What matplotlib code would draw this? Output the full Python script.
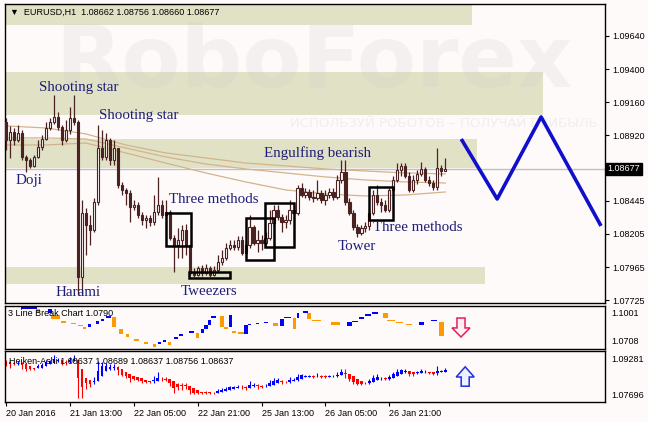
import numpy as np
import matplotlib
matplotlib.use("Agg")
import matplotlib.pyplot as plt
from matplotlib.patches import Rectangle, Polygon
from matplotlib.transforms import blended_transform_factory

plt.rcParams['font.family'] = ['Liberation Sans', 'DejaVu Sans']

# EURUSD H1, first bar 20 Jan 2016 21:00, open of every bar = previous close
first_open = 1.09017
closes = [1.08886, 1.08944, 1.08886, 1.08937, 1.08763, 1.08741, 1.08698, 1.08763, 1.08835, 1.08893,
          1.08973, 1.09017, 1.09053, 1.08980, 1.08886, 1.08959, 1.09046, 1.09017, 1.07893, 1.08357,
          1.08270, 1.08234, 1.08437, 1.08828, 1.08763, 1.08886, 1.08741, 1.08828, 1.08560, 1.08524,
          1.08502, 1.08400, 1.08415, 1.08342, 1.08306, 1.08321, 1.08292, 1.08364, 1.08415, 1.08342,
          1.08364, 1.08176, 1.08125, 1.08161, 1.08234, 1.08125, 1.07922, 1.07907, 1.07958, 1.07922,
          1.07958, 1.07907, 1.07944, 1.08002, 1.08031, 1.08103, 1.08125, 1.08110, 1.08161, 1.08067,
          1.08125, 1.08255, 1.08139, 1.08161, 1.08139, 1.08176, 1.08284, 1.08379, 1.08328, 1.08292,
          1.08306, 1.08379, 1.08357, 1.08538, 1.08487, 1.08509, 1.08473, 1.08466, 1.08502, 1.08451,
          1.08487, 1.08509, 1.08473, 1.08596, 1.08654, 1.08437, 1.08357, 1.08255, 1.08212, 1.08248,
          1.08263, 1.08357, 1.08487, 1.08437, 1.08415, 1.08379, 1.08524, 1.08596, 1.08669, 1.08698,
          1.08625, 1.08524, 1.08596, 1.08640, 1.08676, 1.08596, 1.08574, 1.08545, 1.08683, 1.08662,
          1.08677]
highs = [1.09046, 1.08988, 1.08973, 1.08995, 1.08959, 1.08777, 1.08756, 1.08777, 1.08886, 1.08922,
         1.09017, 1.09046, 1.09212, 1.09089, 1.08995, 1.09031, 1.09125, 1.09212, 1.09031, 1.08451,
         1.08393, 1.08342, 1.08466, 1.08995, 1.08959, 1.08937, 1.08901, 1.08886, 1.08828, 1.08582,
         1.08538, 1.08524, 1.08451, 1.08437, 1.08364, 1.08342, 1.08342, 1.08487, 1.08618, 1.08451,
         1.08451, 1.08379, 1.08197, 1.08248, 1.08270, 1.08277, 1.08125, 1.07958, 1.07973, 1.07980,
         1.07987, 1.07973, 1.07973, 1.08052, 1.08089, 1.08139, 1.08161, 1.08161, 1.08190, 1.08190,
         1.08161, 1.08342, 1.08270, 1.08234, 1.08197, 1.08219, 1.08379, 1.08415, 1.08415, 1.08350,
         1.08342, 1.08451, 1.08415, 1.08560, 1.08574, 1.08538, 1.08531, 1.08524, 1.08596, 1.08524,
         1.08524, 1.08538, 1.08538, 1.08632, 1.08741, 1.08741, 1.08466, 1.08379, 1.08277, 1.08270,
         1.08292, 1.08393, 1.08524, 1.08560, 1.08466, 1.08451, 1.08538, 1.08625, 1.08719, 1.08719,
         1.08719, 1.08654, 1.08632, 1.08669, 1.08727, 1.08690, 1.08625, 1.08596, 1.08828, 1.08705,
         1.08756]
lows = [1.08814, 1.08756, 1.08850, 1.08872, 1.08741, 1.08654, 1.08683, 1.08690, 1.08756, 1.08814,
        1.08886, 1.08959, 1.09002, 1.08959, 1.08850, 1.08872, 1.08930, 1.08995, 1.07762, 1.07762,
        1.08052, 1.08125, 1.08219, 1.08415, 1.08741, 1.08741, 1.08705, 1.08705, 1.08538, 1.08487,
        1.08415, 1.08292, 1.08379, 1.08321, 1.08270, 1.08248, 1.08263, 1.08270, 1.08342, 1.08321,
        1.08321, 1.08161, 1.07929, 1.08031, 1.08031, 1.08052, 1.07907, 1.07893, 1.07900, 1.07900,
        1.07907, 1.07893, 1.07900, 1.07929, 1.07980, 1.08016, 1.08089, 1.08089, 1.08089, 1.08052,
        1.08045, 1.08103, 1.08125, 1.08074, 1.08089, 1.08125, 1.08161, 1.08270, 1.08306, 1.08219,
        1.08248, 1.08277, 1.08342, 1.08342, 1.08473, 1.08466, 1.08451, 1.08437, 1.08451, 1.08429,
        1.08415, 1.08466, 1.08451, 1.08458, 1.08574, 1.08415, 1.08342, 1.08234, 1.08183, 1.08197,
        1.08219, 1.08234, 1.08342, 1.08415, 1.08364, 1.08364, 1.08364, 1.08509, 1.08582, 1.08625,
        1.08611, 1.08509, 1.08509, 1.08567, 1.08625, 1.08582, 1.08553, 1.08524, 1.08524, 1.08625,
        1.08660]

# moving averages read every 10 bars
ma_bars = [0, 10, 20, 30, 40, 50, 60, 70, 80, 90, 100, 110]
ma_fast = [1.08988, 1.08973, 1.08930, 1.08850, 1.08792, 1.08756, 1.08719, 1.08698, 1.08676, 1.08661, 1.08647, 1.08640]
ma_mid = [1.08901, 1.08901, 1.08893, 1.08828, 1.08763, 1.08712, 1.08676, 1.08647, 1.08618, 1.08596, 1.08582, 1.08574]
ma_slow = [1.08850, 1.08850, 1.08864, 1.08792, 1.08719, 1.08647, 1.08582, 1.08524, 1.08495, 1.08480, 1.08487, 1.08509]

# support / resistance zones
zone_top = [1.09865, 1.09379, 1.08893, 1.07965]
zone_bottom = [1.09720, 1.09067, 1.08683, 1.07842]
zone_end = [116.75, 134.5, 118.0, 120.0]

# pattern boxes
box_x0 = [40.0, 45.75, 60.0, 64.75, 91.0]
box_x1 = [46.25, 56.0, 67.0, 72.0, 97.0]
box_top = [1.08357, 1.07929, 1.08321, 1.08429, 1.08545]
box_bottom = [1.08118, 1.07886, 1.08016, 1.08110, 1.08306]

labels = ["Shooting star", "Shooting star", "Doji", "Harami", "Three methods",
          "Tweezers", "Engulfing bearish", "Tower", "Three methods"]
label_bar = [8.25, 23.25, 2.5, 12.5, 40.75, 43.75, 64.5, 83.0, 92.0]
label_price = [1.09270, 1.09067, 1.08589, 1.07777, 1.08458, 1.07791, 1.08792, 1.08117, 1.08248]

# forecast
fc_bar = [114.0, 123.0, 134.0, 149.0]
fc_price = [1.08893, 1.08458, 1.09053, 1.08263]

last_price = 1.08677
price_ticks = [1.09640, 1.09400, 1.09160, 1.08920, 1.08445, 1.08205, 1.07965, 1.07725]
date_bars = [0, 16, 32, 48, 64, 80, 96]
date_labels = ["20 Jan 2016", "21 Jan 13:00", "22 Jan 05:00", "22 Jan 21:00",
               "25 Jan 13:00", "26 Jan 05:00", "26 Jan 21:00"]

# 3 Line Break segments
lb_start = [3.75, 7.5, 10.5, 11.25, 13.75, 16.25, 18.0, 19.25, 20.5, 22.5, 23.75, 25.0, 26.5, 28.25, 30.0,
            32.0, 34.5, 36.75, 38.0, 39.25, 40.5, 42.0, 43.25, 45.75, 47.5, 48.75, 49.5, 50.5, 51.25,
            53.5, 54.5, 55.75, 56.5, 58.0, 59.5, 60.5, 62.5, 64.5, 66.75, 68.5, 69.5, 71.75, 72.75,
            74.25, 75.5, 76.75, 81.5, 85.5, 86.75, 88.5, 90.0, 91.75, 94.5, 95.5, 97.75, 100.25,
            103.5, 106.5, 108.5]
lb_end = [7.5, 8.25, 11.25, 13.25, 15.0, 17.5, 19.25, 20.0, 21.25, 23.25, 24.5, 26.25, 27.5, 29.25, 30.75,
          33.25, 35.5, 37.5, 38.75, 40.0, 41.25, 43.0, 44.25, 47.0, 48.25, 49.5, 50.5, 51.25, 52.5,
          54.5, 55.5, 56.5, 57.5, 59.5, 60.5, 61.25, 63.25, 65.5, 68.0, 69.5, 71.25, 72.5, 73.25,
          75.5, 76.25, 78.75, 83.5, 86.5, 88.0, 89.5, 91.25, 93.0, 95.5, 97.25, 99.25, 101.5,
          104.5, 107.75, 109.5]
lb_top = [1.1001, 1.0986, 1.0986, 1.0941, 1.0896, 1.0881, 1.0866, 1.0851, 1.0873, 1.0896, 1.0911, 1.0933,
          1.0926, 1.0843, 1.0806, 1.0768, 1.0738, 1.0731, 1.0746, 1.0753, 1.0746, 1.0776, 1.0806, 1.0821,
          1.0813, 1.0843, 1.0866, 1.0903, 1.0933, 1.0933, 1.0851, 1.0941, 1.0828, 1.0813, 1.0866, 1.0873,
          1.0881, 1.0888, 1.0881, 1.0911, 1.0926, 1.0918, 1.0956, 1.0963, 1.0956, 1.0903, 1.0888, 1.0888,
          1.0896, 1.0926, 1.0941, 1.0956, 1.0956, 1.0903, 1.0888, 1.0873, 1.0888, 1.0903, 1.0888]
lb_bottom = [1.0986, 1.0956, 1.0956, 1.0911, 1.0881, 1.0873, 1.0858, 1.0843, 1.0851, 1.0873, 1.0896, 1.0918,
             1.0851, 1.0806, 1.0783, 1.0753, 1.0731, 1.0708, 1.0731, 1.0746, 1.0723, 1.0768, 1.0791, 1.0813,
             1.0776, 1.0813, 1.0843, 1.0866, 1.0918, 1.0851, 1.0843, 1.0851, 1.0813, 1.0806, 1.0806, 1.0866,
             1.0873, 1.0881, 1.0858, 1.0858, 1.0918, 1.0836, 1.0918, 1.0956, 1.0911, 1.0896, 1.0866, 1.0858,
             1.0888, 1.0911, 1.0933, 1.0948, 1.0918, 1.0896, 1.0881, 1.0866, 1.0866, 1.0896, 1.0790]
# b = rising line (blue), o = falling line (orange)
lb_dir = ("bobooooo" + "bbbb" + "oooooo" + "bb" + "o" + "bbb" + "o" + "bbbb" + "oo" + "b" + "oo"
          + "bbbb" + "o" + "bb" + "o" + "bb" + "ooo" + "bbbbb" + "oooo" + "bb" + "o")

BG = '#fffafa'
CANDLE = '#4a2222'
ZONE = '#e1e1c5'
TXT = '#1e1e78'

c = np.array(closes)
h = np.array(highs)
l = np.array(lows)
o = np.r_[first_open, c[:-1]]
h = np.maximum(h, np.maximum(o, c))
l = np.minimum(l, np.minimum(o, c))
n = len(c)
x = np.arange(n)

fig = plt.figure(figsize=(6.48, 4.22), dpi=100, facecolor=BG)
ax = fig.add_axes([5/648, 119/422, 600/648, 299/422], facecolor=BG)
ax2 = fig.add_axes([5/648, 73/422, 600/648, 43/422], facecolor=BG)
ax3 = fig.add_axes([5/648, 20/422, 600/648, 51/422], facecolor=BG)

for a in (ax, ax2, ax3):
    a.set_xlim(-0.25, 150)
    for s in a.spines.values():
        s.set_linewidth(1.0)
        s.set_color('black')

# ---- main chart
ax.set_ylim(1.07704, 1.09872)

for t, b, e in zip(zone_top, zone_bottom, zone_end):
    ax.add_patch(Rectangle((-0.25, b), e + 0.25, t - b, facecolor=ZONE, edgecolor='none', zorder=0.5))

ax.text(0.083, 0.80, "RoboForex", transform=ax.transAxes, fontsize=62, fontweight='bold',
        family='DejaVu Sans', color='#d0d0d0', alpha=0.22, va='center', ha='left', zorder=0.8)
ax.text(0.475, 0.60, "ИСПОЛЬЗУЙ РОБОТОВ – ПОЛУЧАЙ ПРИБЫЛЬ", transform=ax.transAxes, fontsize=9.5,
        family='DejaVu Sans', color='#f3eeee', va='center', ha='left', zorder=0.8)

ax.axhline(last_price, color='#c0c0c0', lw=1.0, zorder=1)

ax.plot(ma_bars, ma_fast, color='#d2b48c', lw=0.9, zorder=2)
ax.plot(ma_bars, ma_mid, color='#d2b48c', lw=0.9, zorder=2)
ax.plot(ma_bars, ma_slow, color='#d2b48c', lw=0.9, zorder=2)

ax.vlines(x, l, h, color=CANDLE, lw=0.9, zorder=3)
up = c >= o
ax.bar(x[up], (c - o)[up], bottom=o[up], width=0.55, facecolor=BG, edgecolor=CANDLE, lw=0.8, zorder=4)
ax.bar(x[~up], (o - c)[~up], bottom=c[~up], width=0.55, facecolor=CANDLE, edgecolor=CANDLE, lw=0.8, zorder=4)

for x0, x1, t, b in zip(box_x0, box_x1, box_top, box_bottom):
    ax.add_patch(Rectangle((x0, b), x1 - x0, t - b, fill=False, edgecolor='black', lw=1.8, zorder=5))

for s, bx, py in zip(labels, label_bar, label_price):
    ax.text(bx, py, s, family='Liberation Serif', fontsize=10.8, color=TXT, va='center', ha='left', zorder=6)

ax.plot(fc_bar, fc_price, color='#1010cc', lw=2.6, zorder=6, solid_capstyle='butt')

ax.yaxis.tick_right()
ax.set_yticks(price_ticks)
ax.set_yticklabels([f"{p:.5f}" for p in price_ticks])
ax.tick_params(axis='y', labelsize=6.5, length=3, pad=2, direction='out')
ax.set_xticks([])
bt = blended_transform_factory(ax.transAxes, ax.transData)
ax.text(1.004, last_price, f"{last_price:.5f}", transform=bt, fontsize=6.5, color='white', va='center',
        ha='left', bbox=dict(facecolor='black', edgecolor='black', pad=1.2))
ax.text(0.008, 0.973, "\u25bc  EURUSD,H1  1.08662 1.08756 1.08660 1.08677", transform=ax.transAxes,
        fontsize=6.5, color='black', va='center', ha='left', zorder=7)

# ---- 3 Line Break
ax2.set_ylim(1.0693, 1.1008)
for x0, x1, t, b, k in zip(lb_start, lb_end, lb_top, lb_bottom, lb_dir):
    col = '#0000ff' if k == 'b' else '#ff9900'
    ax2.add_patch(Rectangle((x0, b), x1 - x0 + 0.15, max(t - b, 0.0013), facecolor=col, edgecolor='none'))
ax2.text(0.005, 0.814, "3 Line Break Chart 1.0790", transform=ax2.transAxes, fontsize=6.5, va='center')
ax2.set_xticks([])
ax2.set_yticks([])
ax2.text(1.01, 0.837, "1.1001", transform=ax2.transAxes, fontsize=6.5, va='center')
ax2.text(1.01, 0.163, "1.0708", transform=ax2.transAxes, fontsize=6.5, va='center')
cx, sw, hw = 0.76, 0.0067, 0.015
down = [(cx - sw, 0.72), (cx + sw, 0.72), (cx + sw, 0.49), (cx + hw, 0.49), (cx, 0.28), (cx - hw, 0.49), (cx - sw, 0.49)]
ax2.add_patch(Polygon(down, closed=True, transform=ax2.transAxes, facecolor='#fff0f3', edgecolor='#e0205a', lw=1.1))

# ---- Heiken Ashi
ha_c = (o + h + l + c) / 4
ha_o = np.empty(n)
ha_o[0] = (o[0] + c[0]) / 2
for i in range(1, n):
    ha_o[i] = (ha_o[i - 1] + ha_c[i - 1]) / 2
ha_h = np.maximum(h, np.maximum(ha_o, ha_c))
ha_l = np.minimum(l, np.minimum(ha_o, ha_c))
ha_col = np.where(ha_c >= ha_o, '#0000ff', '#ff0000')

ax3.set_ylim(1.0763, 1.0933)
ax3.vlines(x, ha_l, ha_h, colors=ha_col, lw=0.8)
ax3.bar(x, np.abs(ha_c - ha_o) + 0.00005, bottom=np.minimum(ha_o, ha_c), width=0.65, color=ha_col)
ax3.text(0.0067, 0.80, "Heiken-Ashi 1.08637 1.08689 1.08637 1.08756 1.08637", transform=ax3.transAxes,
         fontsize=6.5, va='center')
ax3.set_yticks([])
ax3.text(1.01, 0.824, "1.09281", transform=ax3.transAxes, fontsize=6.5, va='center')
ax3.text(1.01, 0.137, "1.07696", transform=ax3.transAxes, fontsize=6.5, va='center')
cx = 0.767
upa = [(cx - sw, 0.31), (cx + sw, 0.31), (cx + sw, 0.49), (cx + hw, 0.49), (cx, 0.69), (cx - hw, 0.49), (cx - sw, 0.49)]
ax3.add_patch(Polygon(upa, closed=True, transform=ax3.transAxes, facecolor='#eef2ff', edgecolor='#2030e0', lw=1.1))

ax3.set_xticks(date_bars)
ax3.set_xticklabels(date_labels)
for lab in ax3.get_xticklabels():
    lab.set_ha('left')
ax3.tick_params(axis='x', labelsize=6.5, length=3, pad=2, direction='out')

fig.savefig("out.png", dpi=100, facecolor=BG)
